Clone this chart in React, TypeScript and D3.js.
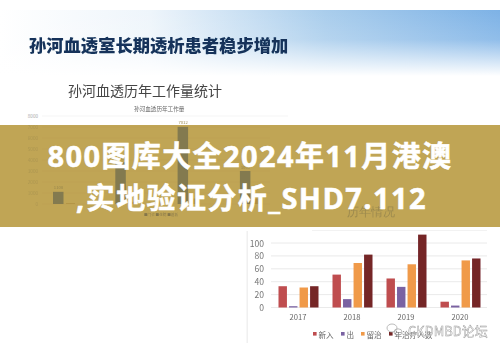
import React from "react";
import * as d3 from "d3";

const leftGroups = ["a", "b", "c", "d"];
const leftBars = [1108, 3800, 7012, 3000];
const leftSmall = [60, 200, 500, 500];
const leftTicks = [0, 1000, 2000, 3000, 4000, 5000, 6000, 7000, 8000];
const years = ["2017", "2018", "2019", "2020"];
const seriesNames = ["新入", "出", "留治", "年治疗人数"];
const seriesColors = ["#bf4d4f", "#7a62a2", "#f09a4a", "#742528"];
const xinru = [33, 51, 45, 9];
const chu = [2, 13, 32, 3];
const liuzhi = [31, 69, 67, 73];
const renshu = [33, 82, 113, 76];
const rightTicks = [0, 20, 40, 60, 80, 100];
const seriesValues = [xinru, chu, liuzhi, renshu];

const heading = "孙河血透室长期透析患者稳步增加";
const subheading = "孙河血透历年工作量统计";
const smallTitle = "孙河血透历年工作量";
const rightTitle = "历年情况";
const bannerLines = ["800图库大全2024年11月港澳", ",实地验证分析_SHD7.112"];
const watermark = "CKDMBD论坛";
const leftLegend = "■门诊 ■住院 ■透析";

const CJK = '"Noto Sans CJK SC", "Noto Sans", sans-serif';
const BANNER = '"Open Sans", "Noto Sans CJK SC", sans-serif';

export default function App() {
  const ly = d3.scaleLinear().domain([0, 8000]).range([204, 116]);
  const lx = d3.scaleBand().domain(leftGroups).range([36, 285.2]);
  const ry = d3.scaleLinear().domain([0, 100]).range([307.5, 243]);
  const rx = d3.scaleBand().domain(years).range([271, 487]);
  const rs = d3.scaleBand().domain(d3.range(4).map(String)).range([0, 40]).paddingInner(0.2);

  return (
    <svg width={500} height={353} style={{ position: "absolute", left: 0, top: 0, background: "#fff" }}>
      <defs>
        <linearGradient id="h" x1="0" x2="1" y1="0" y2="0">
          <stop offset="0" stopColor="#fff" />
          <stop offset="0.3" stopColor="#eef5fb" />
          <stop offset="0.65" stopColor="#a9cdec" />
          <stop offset="1" stopColor="#7db2e6" />
        </linearGradient>
        <linearGradient id="f" x1="0" x2="0" y1="0" y2="1">
          <stop offset="0" stopColor="#fff" stopOpacity="0" />
          <stop offset="0.45" stopColor="#fff" stopOpacity="0.15" />
          <stop offset="1" stopColor="#fff" stopOpacity="1" />
        </linearGradient>
        <filter id="b1"><feGaussianBlur stdDeviation="0.5" /></filter>
        <filter id="b2"><feGaussianBlur stdDeviation="0.25" /></filter>
      </defs>
      <rect x={0} y={10} width={500} height={66} fill="url(#h)" />
      <rect x={0} y={10} width={500} height={66} fill="url(#f)" />
      <text x={29} y={52} fontFamily={CJK} fontWeight={900} fontSize={17.3} fill="#12325a" filter="url(#b2)">{heading}</text>
      <text x={68} y={96} fontFamily={CJK} fontSize={14} fill="#444" filter="url(#b1)">{subheading}</text>
      <text x={134} y={111} fontFamily={CJK} fontSize={5.6} fill="#666" filter="url(#b1)">{smallTitle}</text>

      <line x1={42} x2={288} y1={ly(8000)} y2={ly(8000)} stroke="#eeeeee" strokeWidth={0.6} />
      <text x={38} y={ly(8000) + 1.6} textAnchor="end" fontSize={4.6} fontFamily={CJK} fill="#aaa">8000</text>

      <rect x={0} y={125} width={500} height={102} fill="#c0a555" />

      <g filter="url(#b1)">
        {leftTicks.filter((t) => t < 8000).map((t) => (
          <g key={t}>
            <line x1={42} x2={270} y1={ly(t)} y2={ly(t)} stroke="#bb9f50" strokeWidth={0.5} />
            <text x={38} y={ly(t) + 1.6} textAnchor="end" fontSize={4.6} fontFamily={CJK} fill="#ad9650">{t}</text>
          </g>
        ))}
        {leftGroups.map((g, i) => (
          <g key={g}>
            <rect x={(lx(g) as number) + 17} width={10.5} y={ly(leftBars[i])} height={ly(0) - ly(leftBars[i])} fill="#837a4f" />
            <rect x={(lx(g) as number) + 30} width={9} y={ly(leftSmall[i])} height={ly(0) - ly(leftSmall[i])} fill="#ad8e40" />
            <text x={(lx(g) as number) + 22.5} y={ly(leftBars[i]) - 2.5} textAnchor="middle" fontSize={4.2} fontFamily={CJK} fill="#97864a">{leftBars[i]}</text>
          </g>
        ))}
        <text x={161} y={216} textAnchor="middle" fontSize={3.6} fontFamily={CJK} fill="#85764a">{leftLegend}</text>
      </g>

      <text x={371} y={216} textAnchor="middle" fontFamily="Liberation Serif, serif" fontSize={12} fill="#9d8a4e" filter="url(#b2)">{rightTitle}</text>

      <g fontFamily={BANNER} fontWeight={700} fontSize={29} letterSpacing={1.4} fill="#fff" stroke="#fff" strokeWidth={0.5} textAnchor="middle">
        <text x={250} y={167}>{bannerLines[0]}</text>
        <text x={251.5} y={209}>{bannerLines[1]}</text>
      </g>

      <rect x={246.5} y={231} width={1.4} height={112} fill="#efefef" />
      <line x1={312} x2={487} y1={230.5} y2={230.5} stroke="#f2f2f2" />
      <g filter="url(#b1)">
        {rightTicks.map((t) => (
          <g key={t}>
            <line x1={271} x2={487} y1={ry(t)} y2={ry(t)} stroke="#e4e4e4" strokeWidth={0.8} />
            <text x={264} y={ry(t) + 3.5} textAnchor="end" fontSize={8.6} fontFamily={CJK} fill="#777">{t}</text>
          </g>
        ))}
        {years.map((y, i) => {
          const x0 = (rx(y) as number) + (rx.bandwidth() - 40) / 2 + 0.5;
          return (
            <g key={y}>
              {seriesValues.map((vals, s) => (
                <rect key={s} x={x0 + (rs(String(s)) as number)} width={rs.bandwidth()} y={ry(vals[i])} height={ry(0) - ry(vals[i])} fill={seriesColors[s]} />
              ))}
              <text x={(rx(y) as number) + rx.bandwidth() / 2} y={320} textAnchor="middle" fontSize={7.6} fontFamily={CJK} fill="#666">{y}</text>
            </g>
          );
        })}
        {seriesNames.map((n, i) => {
          const lxs = [313, 341, 361, 389];
          return (
            <g key={n}>
              <rect x={lxs[i]} y={332} width={3.6} height={3.6} fill={seriesColors[i]} />
              <text x={lxs[i] + 5.5} y={338} fontSize={7.6} fontFamily={CJK} fill="#666">{n}</text>
            </g>
          );
        })}
      </g>
      <g filter="url(#b2)">
        <text x={408} y={336} fontFamily={CJK} fontSize={13} fill="#fff" stroke="#999" strokeWidth={0.45}>{watermark}</text>
        <ellipse cx={392} cy={328} rx={5} ry={4} fill="none" stroke="#aaa" strokeWidth={0.8} />
        <ellipse cx={398} cy={332} rx={4} ry={3.2} fill="none" stroke="#aaa" strokeWidth={0.8} />
      </g>
    </svg>
  );
}
